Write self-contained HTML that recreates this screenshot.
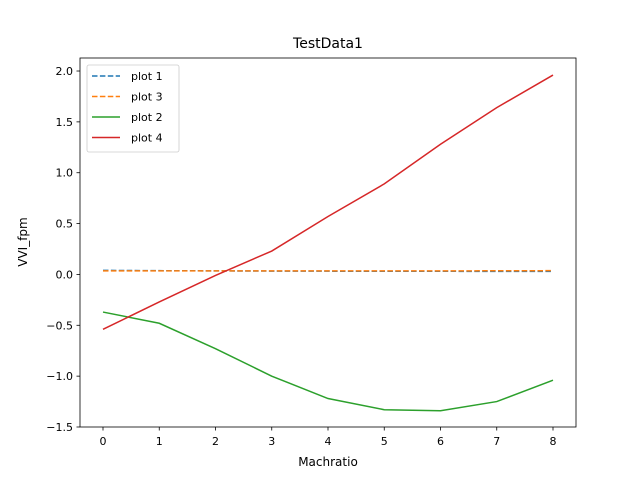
<!DOCTYPE html>
<html><head><meta charset="utf-8"><style>
body{margin:0;background:#fff}
svg{display:block;font-family:"DejaVu Sans","Liberation Sans",sans-serif}
</style></head><body>
<svg id="chart" width="640" height="480">
<rect width="640" height="480" fill="#fff"/>
<text x="328" y="48" font-size="14" text-anchor="middle">TestData1</text>
<g id="plot"></g>
<rect x="80" y="58" width="496" height="369" fill="none" stroke="#000" stroke-width="0.8"/>
<text x="328" y="466" font-size="12" text-anchor="middle">Machratio</text>
<text transform="translate(27,242) rotate(-90)" font-size="12" text-anchor="middle">VVI_fpm</text>
</svg>
<script>
const categories=[0,1,2,3,4,5,6,7,8];
const xTicks=[0,1,2,3,4,5,6,7,8];
const yTicks=[-1.5,-1.0,-0.5,0.0,0.5,1.0,1.5,2.0];
const plot1=[0.04,0.037,0.035,0.033,0.032,0.031,0.031,0.03,0.03];
const plot3=[0.035,0.035,0.035,0.035,0.035,0.035,0.035,0.036,0.037];
const plot2=[-0.37,-0.48,-0.73,-1.00,-1.22,-1.33,-1.34,-1.25,-1.04];
const plot4=[-0.54,-0.27,-0.01,0.23,0.57,0.89,1.28,1.64,1.96];
const series=[
 {name:'plot 1',vals:plot1,color:'#1f77b4',dash:'5.5,2.4'},
 {name:'plot 3',vals:plot3,color:'#ff7f0e',dash:'5.5,2.4'},
 {name:'plot 2',vals:plot2,color:'#2ca02c',dash:''},
 {name:'plot 4',vals:plot4,color:'#d62728',dash:''}];
const X=v=>103+v*56.25;
const Y=v=>427-(v+1.5)*101.71;
const g=document.getElementById('plot');
const NS='http://www.w3.org/2000/svg';
function mk(t,a,p){const e=document.createElementNS(NS,t);for(const k in a)e.setAttribute(k,a[k]);(p||g).appendChild(e);return e;}
xTicks.forEach(t=>{
 const l=mk('line',{x1:X(t),x2:X(t),y1:427,y2:430.5,stroke:'#000','stroke-width':0.8});
 
 
 const tx=mk('text',{x:X(t),y:445,'font-size':11,'text-anchor':'middle'});tx.textContent=t;
 
 
});
yTicks.forEach(t=>{
 const l=mk('line',{x1:76.5,x2:80,y1:Y(t),y2:Y(t),stroke:'#000','stroke-width':0.8});
 
 
 const tx=mk('text',{x:73,y:Y(t)+4,'font-size':11,'text-anchor':'end'});tx.textContent=t.toFixed(1).replace('-','−');
 
 
});
series.forEach(s=>{
 const pts=categories.map((c,i)=>X(c)+','+Y(s.vals[i])).join(' ');
 const p=mk('polyline',{points:pts,fill:'none',stroke:s.color,'stroke-width':1.5,'stroke-dasharray':s.dash});
 
 
});
const lg=mk('g',{});


mk('rect',{x:87,y:65,width:92,height:87,fill:'#fff',stroke:'#ccc','stroke-width':0.8,rx:2},lg);
series.forEach((s,i)=>{
 const y=76+i*20.5;
 const l=mk('line',{x1:92,x2:120,y1:y,y2:y,stroke:s.color,'stroke-width':1.5,'stroke-dasharray':s.dash},lg);
 
 
 const t=mk('text',{x:131,y:y+4,'font-size':11},lg);t.textContent=s.name;
 
 
});
</script>
</body></html>
